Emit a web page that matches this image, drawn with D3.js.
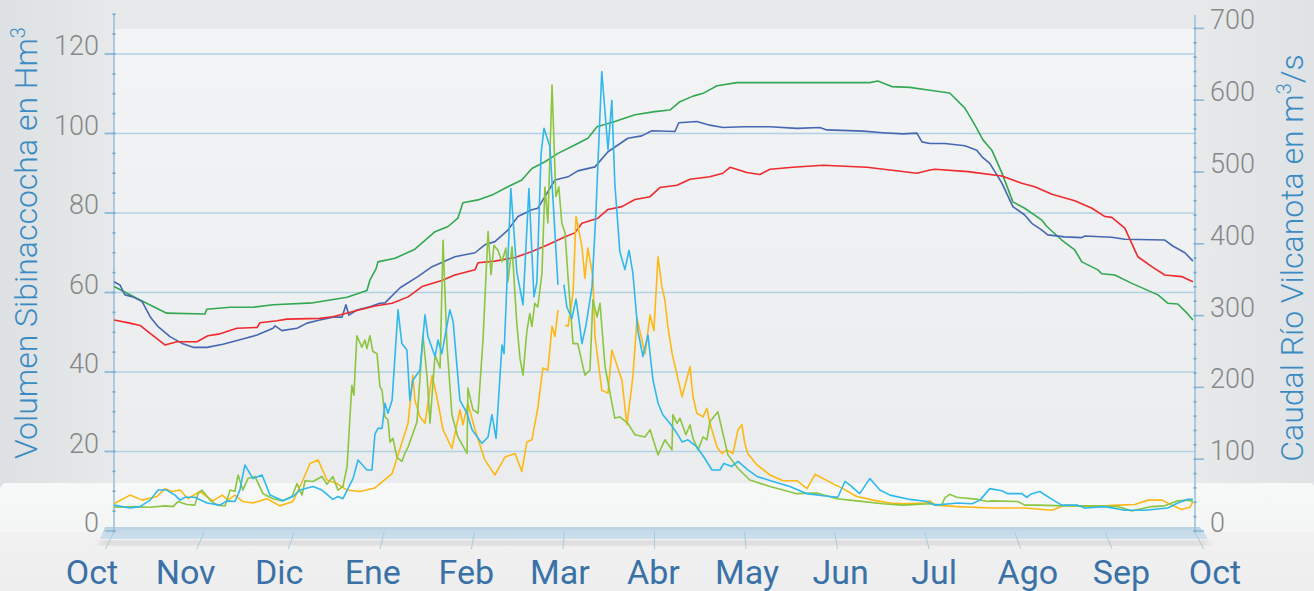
<!DOCTYPE html>
<html>
<head>
<meta charset="utf-8">
<script src="https://cdn.jsdelivr.net/npm/d3@7"></script>
<style>
  html, body { margin: 0; padding: 0; background: #ececec; }
  svg { display: block; font-family: Roboto, "Open Sans", sans-serif; }
</style>
</head>
<body>
<div id="chart"></div>
<script>
const width = 1314, height = 591;

// month labels along the floor
const months = ["Oct", "Nov", "Dic", "Ene", "Feb", "Mar", "Abr", "May", "Jun", "Jul", "Ago", "Sep", "Oct"];
const leftTicks = [0, 20, 40, 60, 80, 100, 120];
const rightTicks = [0, 100, 200, 300, 400, 500, 600, 700];

// volumen Sibinaccocha (Hm3) - day since 1 Oct
const volGreenDays = [0, 8.8, 17.8, 30.7, 31.3, 39.2, 46.9, 53.7, 67.2, 78.7, 85.4, 86.4, 88.5, 89.1, 94.9, 101.6, 108.4, 112.8, 116.1, 117.8, 122.9, 127.6, 133, 137.7, 141.1, 145.5, 149.9, 155.6, 160, 163.1, 169.1, 175.9, 182.6, 187.7, 191.1, 195.5, 198.9, 203.6, 210.3, 255.2, 257.9, 262.6, 268.7, 275.5, 282.2, 287.3, 290.7, 293.4, 296.4, 299.8, 303.5, 307.5, 313.3, 315, 320, 324.4, 326.8, 332.2, 333.5, 337.9, 343.7, 352.5, 355.8, 359.2, 362.3, 364.3];
const volGreen = [61.5, 58.1, 54.8, 54.6, 55.8, 56.3, 56.3, 56.9, 57.4, 58.8, 60.5, 63.1, 66, 67.7, 68.6, 70.9, 75.3, 76.6, 78.7, 82.6, 83.3, 84.5, 86.6, 88.3, 91.2, 92.9, 95, 97.1, 98.8, 101.7, 103, 104.7, 105.5, 105.9, 108, 109.4, 110.1, 112, 112.8, 112.8, 113.2, 111.8, 111.6, 110.9, 110.2, 106.4, 102.1, 98.4, 95.8, 90.1, 82.8, 81.2, 78.2, 76.6, 73.2, 70.7, 67.7, 65.7, 64.7, 64.4, 62.3, 59.4, 57.3, 57.1, 54.8, 53.1];

const volBlueDays = [0, 2, 3.7, 6.4, 9.5, 12.2, 14.9, 18.9, 23, 26.7, 31.4, 36.8, 42.5, 48.3, 53.7, 54.4, 56.7, 61.8, 65.2, 69.5, 73.9, 77, 78.3, 79.3, 82, 86.4, 89.8, 91.5, 96.6, 102.6, 107.4, 115.1, 121.9, 125.2, 128.6, 133, 136.4, 141.1, 143.1, 145.5, 148.9, 153.3, 156.6, 162.4, 166.8, 173.5, 178.2, 181.6, 189.4, 190.7, 196.8, 201.2, 205.6, 212.4, 221.5, 230.6, 238.3, 240.7, 252.9, 259.6, 266.4, 271.1, 272.8, 275.5, 280.5, 287.3, 291.3, 293, 295.7, 299.8, 303.5, 307.5, 309.9, 313.3, 315.3, 321, 326.8, 327.8, 336.9, 341.3, 354.8, 357.5, 361.6, 364.3];
const volBlue = [62.7, 61.9, 59.4, 58.9, 57.7, 53.9, 51.4, 48.9, 47.2, 46.2, 46.2, 47, 48.1, 49.3, 51, 51.6, 50.4, 51, 52.3, 53.1, 53.8, 53.8, 56.9, 54.3, 55.6, 56.4, 57.3, 57.4, 61.2, 64, 66.5, 69, 70, 72, 72.8, 75.7, 79.1, 80.8, 81.2, 84.1, 88.3, 89.1, 90.6, 91.6, 95.4, 98.8, 99.4, 100.7, 100.5, 102.7, 103, 102.1, 101.5, 101.7, 101.7, 101.3, 101.5, 100.9, 100.6, 100.2, 99.9, 100.1, 97.9, 97.5, 97.5, 96.9, 95.8, 94.2, 92.5, 87.5, 81.6, 79.5, 77.4, 75.7, 74.5, 74, 73.8, 74.2, 73.9, 73.4, 73.2, 71.7, 70, 67.9];

const volRedDays = [0, 5.4, 8.8, 12.2, 17.2, 21.3, 28, 31.7, 35.8, 41.5, 48.3, 49.3, 55, 58.4, 69.5, 73.9, 80.7, 88.1, 93.9, 99.3, 104, 110.7, 115.1, 121.9, 122.9, 128.6, 135.4, 141.1, 146.5, 152.3, 155.6, 158, 163.4, 166.8, 171.5, 175.9, 181, 184.3, 190.1, 194.5, 201.2, 205.6, 208, 213.7, 218.1, 221.5, 229.2, 239.4, 254.2, 262, 271.1, 275.5, 277.2, 288.3, 299.8, 306.5, 310.9, 316.7, 324.4, 330.2, 334.6, 336.9, 341.3, 345.7, 350.4, 354.8, 360.5, 364.3];
const volRed = [53.1, 52.3, 51.7, 49.7, 46.8, 47.6, 47.6, 49.1, 49.6, 51, 51.2, 52.4, 52.9, 53.3, 53.5, 53.9, 55.2, 56.6, 57.3, 58.9, 61.5, 63, 64.4, 65.7, 67.5, 67.9, 68.8, 70.3, 72, 74, 75, 77.4, 78.7, 80.9, 81.6, 83.4, 84.1, 86.4, 87, 88.5, 89.1, 90, 91.5, 90.2, 89.7, 91, 91.5, 92, 91.5, 90.8, 90, 90.8, 91, 90.4, 89.3, 87.5, 86.6, 84.7, 83.1, 81.2, 79.1, 78.9, 76.2, 69, 66.5, 64.4, 64, 62.7];

// caudal Rio Vilcanota (m3/s); null = missing data
const flowOrangeDays = [0, 5.4, 9.5, 14.5, 17.2, 19.6, 22.3, 25, 29, 33.4, 36.5, 38.5, 40.8, 43.5, 46.9, 51.7, 56, 60.4, 63.8, 66.2, 68.9, 71.9, 75.3, 78.7, 83, 88.1, 93.9, 99.3, 100.9, 101.6, 103.3, 105, 107.4, 109, 111.1, 114.1, 116.8, 117.8, 119.5, 121.9, 125.2, 128.6, 132, 135.4, 137.7, 139.4, 141.1, 143.1, 144.8, 146.5, 147.9, 148.9, 149.9, 151, 152.3, 153.3, 155, 156, 158, 159, 160, 161.7, 162.4, 164.7, 166.8, 168.1, 171.5, 173.2, 175.2, 176.6, 179.3, 181, 182.3, 183.7, 185, 186, 187, 188.4, 191.8, 194.5, 195.5, 196.8, 198.9, 200.2, 201.2, 203.6, 205.3, 206.9, 209, 210.7, 212, 213, 214, 217.1, 221.5, 225.9, 230.6, 234, 236.7, 242.7, 246.1, 250.8, 257.6, 262, 266.4, 273.8, 275.5, 277.2, 284.9, 296.4, 307.5, 316.7, 321, 330.2, 338.9, 344.7, 349.1, 353.8, 357.2, 360.5, 363.3, 364.3];
const flowOrange = [38, 50, 43, 48, 59, 55, 57, 45, 55, 42, 50, 43, 50, 41, 39, 45, 35, 41, 71, 94, 99, 71, 66, 57, 55, 60, 80, 150, 217, 182, 159, 150, 217, 187, 141, 115, 169, 148, 178, 141, 99, 78, 103, 108, 83, 124, 127, 171, 227, 224, 285, 271, 308, null, 287, 285, 331, 438, 396, 352, 394, 354, 271, 196, 192, 252, 210, 148, 215, 296, 247, 301, 279, 382, 340, 322, 285, 248, 187, 229, 187, 164, 159, 171, 150, 117, 108, 113, 108, 141, 148, 122, 108, 92, 78, 70, 70, 59, 79, 66, 59, 48, 42, 39, 38, 39, 42, 36, 34, 32, 32, 29, 36, 34, 36, 37, 43, 43, 36, 30, 33, 41];

const flowLimeDays = [0, 6.4, 12.2, 17.2, 19.9, 21.6, 24.6, 27.3, 28.4, 29.7, 32.4, 34.8, 37.5, 39.2, 40.8, 41.9, 43.5, 45.2, 47.6, 50.3, 53.7, 57, 60.1, 61.8, 63.5, 64.5, 67.2, 70.2, 71.9, 73.9, 75.6, 77.3, 78.7, 80.3, 81, 82, 83.7, 84.7, 85.4, 86.4, 87.4, 88.8, 89.8, 90.5, 91.5, 92.5, 93.2, 94.2, 95.5, 97.2, 98.2, 99.3, 102.3, 104.3, 105.7, 106.7, 108.4, 110.1, 111.1, 112.4, 114.1, 116.1, 119.2, 119.5, 121.2, 122.9, 124.6, 126.3, 127.3, 128.3, 129.6, 131, 132.3, 133, 134.4, 136, 137.1, 138.1, 139.4, 140.4, 141.1, 142.1, 143.1, 144.5, 145.5, 146.5, 147.9, 149.2, 150.2, 151.2, 152.3, 153.3, 155, 156.6, 159, 160.7, 161.7, 163.1, 164.1, 165.8, 169.1, 170.8, 173.5, 175.9, 179.3, 181, 183.7, 186, 188.4, 188.7, 190.1, 191.1, 193.1, 194.5, 195.5, 197.2, 198.9, 200.2, 201.2, 203.9, 205.3, 207.3, 210.7, 214.7, 221.5, 225.9, 230.6, 237.3, 244.1, 250.8, 259.6, 266.4, 275.5, 279.5, 280.5, 282.2, 284.6, 291.7, 295.1, 296.4, 305.2, 307.5, 311.9, 321, 330.2, 338.9, 343.7, 350.4, 354.8, 359.2, 362.6, 364.3];
const flowLime = [33, 34, 33, 35, 34, 41, 37, 36, 52, 57, 43, 36, 35, 57, 55, 78, 57, 73, 76, 52, 45, 42, 48, 66, 50, 70, 69, 76, 65, 76, 57, 62, 90, 203, 189, 272, 256, 266, 254, 272, 250, 247, 201, 196, 159, 155, 124, 129, 103, 97, 108, 117, 152, 273, 215, 150, 245, 227, 405, 261, 162, 131, 108, 199, 169, 164, 266, 417, 357, 398, 391, 375, 394, 347, 396, 289, 240, 217, 278, 303, 285, 317, 312, 359, 479, 429, 621, 466, 479, 429, 415, 354, 261, 261, 217, 224, 322, 298, 317, 229, 157, 159, 150, 134, 131, 141, 106, 127, 113, 162, 150, 157, 134, 148, 129, 113, 131, 127, 152, 166, 141, 106, 87, 71, 62, 57, 52, 53, 45, 42, 38, 36, 38, 36, 46, 51, 47, 44, 41, 42, 41, 36, 36, 35, 35, 34, 28, 34, 35, 42, 43, 41];

const flowCyanDays = [0, 5.4, 8.8, 12.2, 14.9, 17.8, 20.6, 22.3, 24, 27.3, 31.4, 35.8, 38.1, 40.8, 42.5, 44.2, 46.9, 50, 52.7, 57, 60.4, 62.8, 67.2, 70.2, 73.9, 75.6, 77.3, 80.7, 82.4, 85.4, 87.1, 88.1, 89.1, 90.5, 91.5, 92.5, 93.9, 95.9, 97.2, 98.9, 99.9, 100.9, 103.3, 105, 106, 108.4, 109.4, 110.7, 113.4, 114.5, 116.8, 119.2, 120.9, 124.2, 126.3, 127.6, 129, 131, 131.7, 134, 136, 138.1, 140.1, 141.8, 142.8, 144.2, 145.2, 147.2, 149.9, 151, 151.9, 152.9, 154.6, 156, 157, 158, 159.3, 161.4, 162.7, 164.7, 166.8, 168.1, 169.1, 170.8, 172.5, 173.9, 175.2, 176.9, 178.6, 180.3, 182, 183.7, 185.3, 187.7, 190.1, 191.8, 193.8, 196.8, 199.5, 201.9, 204.6, 205.9, 208.6, 210.7, 214, 217.1, 222.5, 228.2, 234, 239.4, 244.4, 246.8, 248.5, 251.8, 255.2, 258.6, 262, 268.7, 274.5, 277.2, 284.9, 289.7, 292.4, 295.7, 299.8, 301.8, 306.5, 308.2, 309.9, 312.6, 316.7, 320, 325.4, 327.8, 334.6, 341.3, 348.1, 355.8, 359.2, 362.3, 364.3];
const flowCyan = [36, 32, 34, 43, 57, 57, 50, 43, 47, 47, 39, 36, 42, 41, 57, 92, 73, 78, 50, 42, 48, 57, 62, 57, 44, 48, 45, 73, 99, 85, 85, 135, 143, 143, 178, 164, 182, 308, 261, 252, 182, 210, 224, 301, 271, 243, 266, 247, 308, 292, 182, 164, 141, 122, 131, 162, 129, 259, 247, 477, 361, 315, 477, 326, 347, 526, 561, 535, 343, null, 343, 312, 296, 323, 294, 261, 285, 340, 442, 640, 531, 600, 484, 389, 364, 391, 359, 278, 243, 273, 210, 178, 162, 150, 136, 124, 127, 117, 101, 85, 85, 94, 90, 97, 85, 76, 69, 62, 52, 49, 47, 69, 64, 52, 73, 57, 50, 44, 41, 36, 39, 38, 43, 59, 56, 52, 52, 47, 52, 55, 44, 36, 36, 32, 34, 29, 29, 32, 39, 44, 44];

const svg = d3.select("#chart").append("svg")
    .attr("width", width)
    .attr("height", height);

const defs = svg.append("defs");

function linGrad(id, x2, y2, stops) {
  const g = defs.append("linearGradient").attr("id", id)
      .attr("x1", 0).attr("y1", 0).attr("x2", x2).attr("y2", y2);
  stops.forEach(s => g.append("stop").attr("offset", s[0]).attr("stop-color", s[1]));
}
linGrad("bgGrad", 1, 0, [[0, "#dde1e3"], [0.09, "#e7e9ea"], [0.91, "#e7e9ea"], [1, "#dfe3e5"]]);
linGrad("plotGrad", 0, 1, [[0, "#f3f4f5"], [1, "#ebeced"]]);
linGrad("floorGrad", 0, 1, [[0, "#f7f8f8"], [1, "#f4f5f5"]]);
linGrad("lowGrad", 0, 1, [[0, "#f1f1f1"], [1, "#eeeeee"]]);
linGrad("shelfGrad", 0, 1, [[0, "#b8d0e3"], [0.35, "#c6dae9"], [1, "#cddfec"]]);
defs.append("filter").attr("id", "shadow")
    .append("feGaussianBlur").attr("stdDeviation", 3);

// scales
const x = d3.scaleLinear().domain([0, 365]).range([114, 1195]);
const yL = d3.scaleLinear().domain([0, 130]).range([531, 14.25]);
const yR = d3.scaleLinear().domain([0, 700]).range([531, 28.4]);
const monthX = d3.scaleLinear().domain([0, 12]).range([114, 1195]);
const labelX = d3.scaleLinear().domain([0, 12]).range([92, 1215]);

// background pieces
svg.append("rect").attr("width", width).attr("height", height).attr("fill", "url(#bgGrad)");
svg.append("rect").attr("x", 114).attr("y", 29).attr("width", 1081).attr("height", 454)
    .attr("fill", "url(#plotGrad)");
svg.append("path").attr("d", "M4,483 L1312,483 L1314,486 L1314,532 L0,532 L0,488 Z")
    .attr("fill", "url(#floorGrad)");
svg.append("rect").attr("x", 0).attr("y", 532).attr("width", width).attr("height", height - 532)
    .attr("fill", "url(#lowGrad)");

// grid lines
svg.append("g").selectAll("line").data(leftTicks.filter(d => d > 0)).join("line")
    .attr("x1", 104).attr("x2", 1195)
    .attr("y1", d => yL(d)).attr("y2", d => yL(d))
    .attr("stroke", "#b3d1e4").attr("stroke-width", 1.3);

// front shelf
svg.append("path").attr("d", "M101,541 L1207,541 L1210,545 L98,545 Z")
    .attr("fill", "#c9c9c9").attr("filter", "url(#shadow)");
svg.append("path").attr("d", "M105,527 L1200,527 L1208,539 L100,539 Z")
    .attr("fill", "url(#shelfGrad)");

// month ticks, slanted toward the viewer
svg.append("g").selectAll("line").data(d3.range(0, 13)).join("line")
    .attr("x1", d => monthX(d)).attr("y1", 532)
    .attr("x2", d => 655 + (monthX(d) - 655) * 1.016).attr("y2", 549)
    .attr("stroke", "#a9cbe0").attr("stroke-width", 1);

svg.append("g").selectAll("text").data(months).join("text")
    .attr("x", (d, i) => labelX(i)).attr("y", 584)
    .attr("text-anchor", "middle")
    .attr("font-size", 34).attr("fill", "#3a72a8")
    .text(d => d);

// axes
function drawAxis(scale, xPos, majors, minorStep, maxVal, side) {
  const g = svg.append("g");
  g.append("line").attr("x1", xPos).attr("x2", xPos).attr("y1", 15).attr("y2", 533)
      .attr("stroke", "#9dc2da").attr("stroke-width", 1.6);
  g.selectAll(".minor").data(d3.range(0, maxVal + 0.1, minorStep)).join("line")
      .attr("x1", xPos - 1.5).attr("x2", xPos + 1.5)
      .attr("y1", d => scale(d)).attr("y2", d => scale(d))
      .attr("stroke", "#6fa6cc").attr("stroke-width", 1.6);
  g.selectAll(".major").data(majors).join("line")
      .attr("x1", xPos).attr("x2", xPos + side * 9)
      .attr("y1", d => scale(d)).attr("y2", d => scale(d))
      .attr("stroke", "#8ab8d6").attr("stroke-width", 1.6);
  g.selectAll("text").data(majors).join("text")
      .attr("x", xPos + side * 15)
      .attr("y", d => scale(d) + 1)
      .attr("text-anchor", side < 0 ? "end" : "start")
      .attr("font-size", 27).attr("font-weight", 300).attr("fill", "#878787")
      .text(d => d);
}
drawAxis(yL, 114, leftTicks, 5, 130, -1);
drawAxis(yR, 1195, rightTicks, 20, 700, 1);

// axis titles
const lt = svg.append("text").attr("transform", "translate(37,243) rotate(-90)")
    .attr("text-anchor", "middle").attr("font-size", 32).attr("font-weight", 300).attr("fill", "#3b8bc3");
lt.append("tspan").text("Volumen Sibinaccocha en Hm");
lt.append("tspan").attr("font-size", 20).attr("dy", -12).text("3");

const rt = svg.append("text").attr("transform", "translate(1303,258) rotate(-90)")
    .attr("text-anchor", "middle").attr("font-size", 32).attr("font-weight", 300).attr("fill", "#3b8bc3");
rt.append("tspan").text("Caudal Río Vilcanota en m");
rt.append("tspan").attr("font-size", 20).attr("dy", -12).text("3");
rt.append("tspan").attr("dy", 12).text("/s");

// series
function pairs(days, vals) { return days.map((d, i) => [d, vals[i]]); }

const lineL = d3.line().x(d => x(d[0])).y(d => yL(d[1]));
const lineR = d3.line().defined(d => d[1] != null).x(d => x(d[0])).y(d => yR(d[1]));

const series = [
  {data: pairs(volGreenDays, volGreen), line: lineL, color: "#32a852"},
  {data: pairs(volBlueDays, volBlue), line: lineL, color: "#4668b2"},
  {data: pairs(volRedDays, volRed), line: lineL, color: "#ee2a2e"},
  {data: pairs(flowOrangeDays, flowOrange), line: lineR, color: "#fdb814"},
  {data: pairs(flowLimeDays, flowLime), line: lineR, color: "#8cc540"},
  {data: pairs(flowCyanDays, flowCyan), line: lineR, color: "#2fb8ec"}
];

svg.append("g").selectAll("path").data(series).join("path")
    .attr("d", s => s.line(s.data))
    .attr("fill", "none")
    .attr("stroke", s => s.color)
    .attr("stroke-width", 1.6)
    .attr("stroke-linejoin", "round");
</script>
</body>
</html>
